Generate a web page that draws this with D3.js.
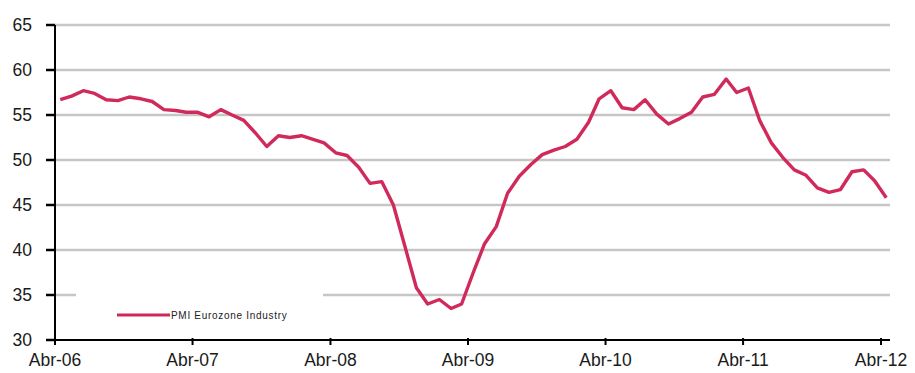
<!DOCTYPE html>
<html>
<head>
<meta charset="utf-8">
<script src="https://cdn.jsdelivr.net/npm/d3@7"></script>
<style>
  html, body { margin: 0; padding: 0; background: #fff; }
  svg { display: block; }
  .tick-label { font-family: "Liberation Sans", Arial, sans-serif; font-size: 17.5px; fill: #1a1a1a; }
  .legend-label { font-family: "Liberation Sans", Arial, sans-serif; font-size: 10px; letter-spacing: 0.7px; fill: #222; }
</style>
</head>
<body>
<svg id="chart" width="915" height="373"></svg>
<script>
// Monthly PMI readings, Apr 2006 – Apr 2012
const months = [
  "2006-04","2006-05","2006-06","2006-07","2006-08","2006-09","2006-10","2006-11","2006-12",
  "2007-01","2007-02","2007-03","2007-04","2007-05","2007-06","2007-07","2007-08","2007-09","2007-10","2007-11","2007-12",
  "2008-01","2008-02","2008-03","2008-04","2008-05","2008-06","2008-07","2008-08","2008-09","2008-10","2008-11","2008-12",
  "2009-01","2009-02","2009-03","2009-04","2009-05","2009-06","2009-07","2009-08","2009-09","2009-10","2009-11","2009-12",
  "2010-01","2010-02","2010-03","2010-04","2010-05","2010-06","2010-07","2010-08","2010-09","2010-10","2010-11","2010-12",
  "2011-01","2011-02","2011-03","2011-04","2011-05","2011-06","2011-07","2011-08","2011-09","2011-10","2011-11","2011-12",
  "2012-01","2012-02","2012-03","2012-04"
];
const pmiIndustry = [
  56.7, 57.1, 57.7, 57.4, 56.7, 56.6, 57.0, 56.8, 56.5,
  55.6, 55.5, 55.3, 55.3, 54.8, 55.6, 55.0, 54.4, 53.0, 51.5, 52.7, 52.5,
  52.7, 52.3, 51.9, 50.8, 50.5, 49.2, 47.4, 47.6, 45.0, 40.5, 35.8, 34.0,
  34.5, 33.5, 34.0, 37.5, 40.7, 42.6, 46.3, 48.2, 49.5, 50.6, 51.1, 51.5,
  52.3, 54.2, 56.8, 57.7, 55.8, 55.6, 56.7, 55.1, 54.0, 54.6, 55.3, 57.0,
  57.3, 59.0, 57.5, 58.0, 54.4, 51.9, 50.3, 48.9, 48.3, 46.9, 46.4, 46.7,
  48.7, 48.9, 47.7, 45.8
];
const yTicks = [30, 35, 40, 45, 50, 55, 60, 65];
const xTickLabels = ["Abr-06","Abr-07","Abr-08","Abr-09","Abr-10","Abr-11","Abr-12"];
const seriesName = "PMI Eurozone Industry";

const svg = d3.select("#chart");
const plotLeft = 55, plotTop = 25, plotBottom = 340, gridRight = 890, lastTickX = 881;
const seriesColor = "#d02a5b";

// readings are plotted mid-month on a date axis
const parse = d3.timeParse("%Y-%m");
const data = months.map((m, i) => {
  const d = parse(m);
  return { date: new Date(d.getFullYear(), d.getMonth(), 15), value: pmiIndustry[i] };
});
const tickDates = xTickLabels.map((_, i) => new Date(2006 + i, 3, 1));

const x = d3.scaleTime()
  .domain([tickDates[0], tickDates[tickDates.length - 1]])
  .range([plotLeft, lastTickX]);
const y = d3.scaleLinear().domain([30, 65]).range([plotBottom, plotTop]);

// horizontal gridlines
svg.append("g")
  .selectAll("line")
  .data(yTicks.filter(v => v > 30))
  .join("line")
  .attr("x1", plotLeft).attr("x2", gridRight)
  .attr("y1", d => y(d)).attr("y2", d => y(d))
  .attr("stroke", "#c6c6c6")
  .attr("stroke-width", 2.5);

// legend box sits over the plot area
const legend = svg.append("g");
legend.append("rect")
  .attr("x", 76).attr("y", 287).attr("width", 247).attr("height", 42)
  .attr("fill", "#fff");
legend.append("line")
  .attr("x1", 117).attr("x2", 170).attr("y1", 315).attr("y2", 315)
  .attr("stroke", seriesColor).attr("stroke-width", 3);
legend.append("text")
  .attr("class", "legend-label")
  .attr("x", 171).attr("y", 318.5)
  .text(seriesName);

// series line
svg.append("path")
  .datum(data)
  .attr("fill", "none")
  .attr("stroke", seriesColor)
  .attr("stroke-width", 3.4)
  .attr("stroke-linejoin", "round")
  .attr("d", d3.line().x(d => x(d.date)).y(d => y(d.value)));

// y axis
const yAxis = svg.append("g");
yAxis.append("line")
  .attr("x1", plotLeft).attr("x2", plotLeft).attr("y1", plotTop).attr("y2", plotBottom)
  .attr("stroke", "#000").attr("stroke-width", 2);
yAxis.selectAll("line.tick")
  .data(yTicks)
  .join("line")
  .attr("class", "tick")
  .attr("x1", plotLeft - 9).attr("x2", plotLeft)
  .attr("y1", d => y(d)).attr("y2", d => y(d))
  .attr("stroke", "#000").attr("stroke-width", 2.5);
yAxis.selectAll("text")
  .data(yTicks)
  .join("text")
  .attr("class", "tick-label")
  .attr("x", 32)
  .attr("y", d => y(d))
  .attr("dy", "0.35em")
  .attr("text-anchor", "end")
  .text(d => d);

// x axis
const xAxis = svg.append("g");
xAxis.append("line")
  .attr("x1", plotLeft).attr("x2", gridRight).attr("y1", plotBottom).attr("y2", plotBottom)
  .attr("stroke", "#000").attr("stroke-width", 2);
xAxis.selectAll("line.tick")
  .data(tickDates)
  .join("line")
  .attr("class", "tick")
  .attr("x1", d => x(d)).attr("x2", d => x(d))
  .attr("y1", plotBottom - 2).attr("y2", plotBottom + 5)
  .attr("stroke", "#000").attr("stroke-width", 2);
xAxis.selectAll("text")
  .data(tickDates)
  .join("text")
  .attr("class", "tick-label")
  .attr("x", d => x(d))
  .attr("y", 366)
  .attr("text-anchor", "middle")
  .text((d, i) => xTickLabels[i]);
</script>
</body>
</html>
